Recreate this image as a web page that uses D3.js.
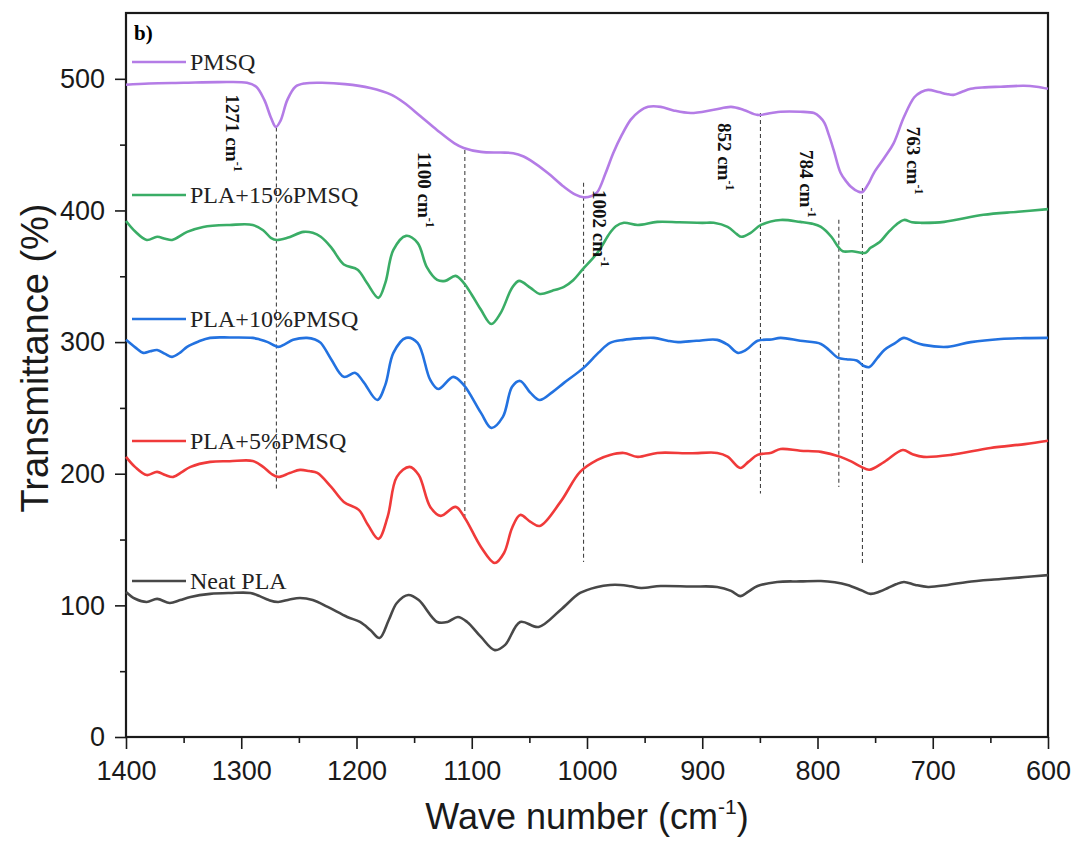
<!DOCTYPE html>
<html lang="en">
<head>
  <meta charset="UTF-8">
  <title>FTIR spectra</title>
  <script src="https://d3js.org/d3.v7.min.js"></script>
  <style>
    body { margin: 0; background: #fff; }
    .axis path, .axis line { stroke: #1a1a1a; stroke-width: 1.6px; }
    .axis text { font-family: "Liberation Sans", Arial, sans-serif; font-size: 27px; fill: #1a1a1a; }
  </style>
</head>
<body>
  <svg id="svg" width="1082" height="842"></svg>
  <script>
    // wave number (cm-1), transmittance (%)
    var pmsq = [[1400,495.5],[1380,496.5],[1350,497],[1320,497.5],[1295,497],[1287,494],[1280,484],[1274,470],[1270,463.5],[1266,468],[1260,484],[1253,494],[1245,496.5],[1230,497],[1210,496],[1188,493],[1170,488],[1159,482],[1145,472],[1130,461],[1115,451],[1107,447.5],[1092,444.5],[1075,444],[1064,443.5],[1055,441],[1049,438],[1034,428.5],[1020,418],[1010,412],[1003,410],[996,411],[991,414],[984,428],[977,444],[970,457],[962,469],[955,475],[947,478.7],[936,478.7],[925,476],[910,474],[890,476.5],[875,478.7],[864,476.4],[852,472.6],[840,474],[832,475],[815,475],[803,474],[798,471],[794,466.6],[790,457],[786,446],[780,428.6],[775,422],[771,418],[765,414.5],[761,414],[756,420],[751,428.6],[742,440],[734,451],[725,471],[716,486],[710,490],[704,491.6],[695,490],[688,488.5],[682,487.8],[675,490],[667,492.4],[655,493.5],[641,494],[621,494.7],[610,494],[600,492.4]]

    var pla15 = [[1400,392],[1392,384],[1382,377.6],[1373,380],[1366,378.5],[1360,377.6],[1347,383.7],[1333,387.5],[1310,389],[1290,389],[1281,385],[1274,379],[1269,377.6],[1260,379.2],[1246,383.7],[1238,383],[1231,380],[1222,372],[1211,359],[1199,355],[1191,345],[1181,333.6],[1175,345],[1168,370],[1157,380.7],[1147,375.4],[1139,357],[1130,347.3],[1123,346.5],[1114,350.3],[1107,345],[1100,336],[1092,324.5],[1083,313.8],[1075,322],[1065,341.2],[1059,346.5],[1049,341.2],[1041,336.6],[1030,339],[1020,342],[1012,347],[1004,355],[991,367.8],[980,383],[975,388],[968,390.6],[956,389],[939,391.3],[920,391],[900,390.6],[890,390.6],[878,387.5],[870,382],[866,380],[858,383],[849,389],[832,392.8],[815,391.3],[805,390],[797,387.5],[788,380],[782,372.3],[778,369],[770,369],[762,367.8],[758,368],[754,371.6],[746,376],[739,383],[732,389],[725,392.8],[718,391],[710,390.6],[690,391.3],[656,396.7],[626,399],[600,401]]

    var pla10 = [[1400,301.7],[1392,296],[1385,291.8],[1379,293],[1373,294],[1366,291],[1360,288.8],[1353,292],[1347,296.4],[1337,300.5],[1327,303.2],[1310,303.5],[1290,303.2],[1284,302],[1277,300],[1268,296.4],[1262,298.5],[1255,301.7],[1243,303.2],[1236,302],[1231,299.4],[1222,287],[1211,273.6],[1201,276.6],[1194,269.8],[1182,256],[1175,267.5],[1168,291.8],[1157,303.2],[1147,299.4],[1136,271.3],[1129,264.4],[1116,273.6],[1107,267.5],[1092,246.2],[1083,234.8],[1073,243.2],[1065,266],[1058,270.5],[1049,261.4],[1041,256],[1030,262],[1020,269],[1003,280.4],[990,292],[980,299.4],[968,301.7],[955,302.8],[942,303.2],[930,301],[921,300],[905,301],[887,301.7],[878,298],[869,291.8],[862,294],[852,301],[840,302],[832,303.2],[815,301],[797,298.6],[790,294],[782,288],[775,287],[766,286],[760,282],[755,281],[748,288],[742,294],[733,299],[725,303.2],[716,300],[708,297.9],[687,296.4],[667,300],[641,302.4],[620,303],[600,303.2]]

    var pla5 = [[1400,212.8],[1392,205],[1382,199],[1373,201.4],[1366,199],[1359,197.6],[1352,201],[1344,205.2],[1327,209],[1310,209.5],[1290,209.7],[1281,205.2],[1274,200],[1268,197.6],[1258,200.5],[1249,202.9],[1241,202],[1234,200.6],[1222,190],[1211,178.6],[1198,172.5],[1190,161],[1181,150.5],[1173,167.2],[1165,197.6],[1154,205.2],[1146,199],[1136,174.8],[1127,168],[1114,174.8],[1106,166.4],[1092,144.4],[1080,132.2],[1072,139.8],[1065,158.8],[1058,168.7],[1049,163.4],[1041,160.3],[1023,178.6],[1006,201.4],[991,210.5],[980,214.3],[968,215.8],[956,212.8],[939,215.8],[910,215.5],[887,215.8],[878,213],[867,204.4],[860,209],[852,214.3],[840,216],[832,218.8],[815,217.5],[797,216.6],[780,212.8],[770,209],[762,205.2],[755,203],[742,209],[726,218],[718,215],[708,212.8],[684,214.3],[650,219.6],[620,222.5],[600,225]]

    var neatPla = [[1400,110.2],[1392,105],[1382,102.6],[1373,104.9],[1362,101.8],[1353,104],[1344,106.4],[1327,108.7],[1310,109.4],[1292,109.4],[1284,107],[1276,104],[1268,102.6],[1258,104.5],[1249,105.6],[1238,104],[1225,98.8],[1208,91.2],[1197,87.4],[1188,81.3],[1180,75.2],[1172,88.9],[1165,101.8],[1155,107.9],[1146,104],[1130,87.4],[1121,87.4],[1112,91.2],[1104,87.4],[1092,76],[1080,66],[1071,70],[1058,87.4],[1042,83.6],[1023,96.5],[1006,109.4],[991,114],[980,115.5],[971,115.5],[962,114.5],[953,113.2],[936,114.7],[910,114.3],[887,114],[875,111],[867,107],[860,110.5],[852,114.7],[835,117.8],[815,118.2],[797,118.5],[785,117.5],[774,115.5],[762,111.5],[754,108.7],[746,110.5],[739,113.2],[732,116],[725,117.8],[715,115.5],[704,114],[687,115.5],[670,117.8],[641,120],[620,121.5],[600,123]]

    var seriesNames = ['PMSQ', 'PLA+15%PMSQ', 'PLA+10%PMSQ', 'PLA+5%PMSQ', 'Neat PLA']
    var seriesData = [pmsq, pla15, pla10, pla5, neatPla]
    var seriesColors = ['#b47ce6', '#3aad66', '#2372e0', '#f03a3a', '#484848']

    var xTicks = [1400, 1300, 1200, 1100, 1000, 900, 800, 700, 600]
    var yTicks = [0, 100, 200, 300, 400, 500]

    // peak markers: dashed line position, its extent, label text and label anchor
    var peakWave = [1269.5, 1106, 1003, 849.5, 781.5, 761]
    var peakFrom = [463, 446, 421, 474, 393, 417]
    var peakTo = [187, 165, 133, 185, 190, 131]
    var peakText = ['1271', '1100', '1002', '852', '784', '763']
    var peakLabelWave = [1313, 1147, 995, 886, 815, 722]
    var peakLabelVal = [488, 444.5, 415.5, 466.5, 446, 463.5]

    var margin = { top: 13, right: 34, bottom: 105, left: 126 }
    var width = 1082 - margin.left - margin.right
    var height = 842 - margin.top - margin.bottom

    var svg = d3.select('#svg')
    svg.append('rect').attr('width', 1082).attr('height', 842).attr('fill', '#fff')
    var g = svg.append('g')
      .attr('transform', 'translate(' + margin.left + ',' + margin.top + ')')

    var x = d3.scaleLinear().domain([1400, 600]).range([0, width])
    var y = d3.scaleLinear().domain([0, 550]).range([height, 0])

    // minor ticks
    var xMinor = d3.range(1350, 600, -100)
    var yMinor = d3.range(50, 550, 100)
    g.append('g').attr('class', 'axis')
      .attr('transform', 'translate(0,' + height + ')')
      .call(d3.axisBottom(x).tickValues(xMinor).tickSize(6).tickFormat(''))
      .select('.domain').remove()
    g.append('g').attr('class', 'axis')
      .call(d3.axisLeft(y).tickValues(yMinor).tickSize(6).tickFormat(''))
      .select('.domain').remove()

    var xAxis = g.append('g').attr('class', 'axis')
      .attr('transform', 'translate(0,' + height + ')')
      .call(d3.axisBottom(x).tickValues(xTicks).tickSize(12).tickPadding(12).tickFormat(d3.format('d')))
    xAxis.select('.domain').remove()

    var yAxis = g.append('g').attr('class', 'axis')
      .call(d3.axisLeft(y).tickValues(yTicks).tickSize(11).tickPadding(10))
    yAxis.select('.domain').remove()

    // frame
    g.append('rect')
      .attr('width', width).attr('height', height)
      .attr('fill', 'none').attr('stroke', '#1a1a1a').attr('stroke-width', 2.2)

    // dashed peak lines
    g.selectAll('.peak')
      .data(peakWave)
      .enter()
      .append('line')
      .attr('x1', d => x(d)).attr('x2', d => x(d))
      .attr('y1', (d, i) => y(peakFrom[i]))
      .attr('y2', (d, i) => y(peakTo[i]))
      .attr('stroke', '#444')
      .attr('stroke-width', 1.1)
      .attr('stroke-dasharray', '4,3')

    var line = d3.line()
      .x(d => x(d[0]))
      .y(d => y(d[1]))
      .curve(d3.curveCatmullRom.alpha(0.5))

    g.selectAll('.series')
      .data(seriesData)
      .enter()
      .append('path')
      .attr('d', line)
      .attr('fill', 'none')
      .attr('stroke', (d, i) => seriesColors[i])
      .attr('stroke-width', 2.6)
      .attr('stroke-linejoin', 'round')

    // peak labels, rotated
    var labels = g.selectAll('.plabel')
      .data(peakText)
      .enter()
      .append('text')
      .attr('transform', (d, i) => 'translate(' + x(peakLabelWave[i]) + ',' + y(peakLabelVal[i]) + ') rotate(90)')
      .attr('font-family', '"Liberation Serif", "Times New Roman", serif')
      .attr('font-weight', 'bold')
      .attr('font-size', 19)
      .attr('fill', '#111')
    labels.append('tspan').text(d => d + ' cm')
    labels.append('tspan').attr('dy', -8).attr('font-size', 12).text('-1')

    // legend labels sitting above each curve
    var legendY = [49, 182, 306, 428, 568]
    var legend = svg.selectAll('.legend')
      .data(seriesNames)
      .enter()
      .append('g')
      .attr('transform', (d, i) => 'translate(0,' + (legendY[i] + margin.top) + ')')
    legend.append('line')
      .attr('x1', 132).attr('x2', 186)
      .attr('stroke', (d, i) => seriesColors[i])
      .attr('stroke-width', 2.6)
    legend.append('text')
      .attr('x', 190).attr('y', 8)
      .attr('font-family', '"Liberation Serif", "Times New Roman", serif')
      .attr('font-size', 24)
      .attr('fill', '#222')
      .text(d => d)

    svg.append('text')
      .attr('x', 134).attr('y', 40)
      .attr('font-family', '"Liberation Serif", "Times New Roman", serif')
      .attr('font-weight', 'bold')
      .attr('font-size', 21)
      .text('b)')

    // axis titles
    svg.append('text')
      .attr('transform', 'translate(48,358) rotate(-90)')
      .attr('text-anchor', 'middle')
      .attr('font-family', '"Liberation Sans", Arial, sans-serif')
      .attr('font-size', 38)
      .attr('fill', '#1a1a1a')
      .text('Transmittance (%)')

    var xt = svg.append('text')
      .attr('x', 587).attr('y', 829)
      .attr('text-anchor', 'middle')
      .attr('font-family', '"Liberation Sans", Arial, sans-serif')
      .attr('font-size', 36)
      .attr('fill', '#1a1a1a')
    xt.append('tspan').text('Wave number (cm')
    xt.append('tspan').attr('dy', -15).attr('font-size', 21).text('-1')
    xt.append('tspan').attr('dy', 15).text(')')
  </script>
</body>
</html>
